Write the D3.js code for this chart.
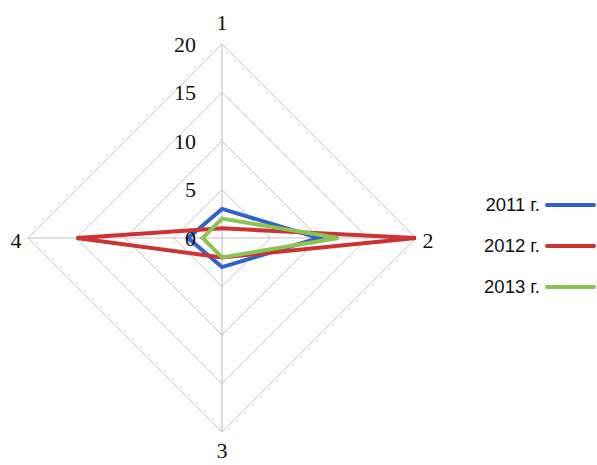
<!DOCTYPE html>
<html>
<head>
<meta charset="utf-8">
<script src="https://cdn.jsdelivr.net/npm/d3@7"></script>
<style>
  html, body { margin: 0; padding: 0; background: #fff; }
  svg { display: block; }
</style>
</head>
<body>
<svg id="chart" width="597" height="465"></svg>
<script>
// Radar chart: four indicators, three years
const axesNames = ["1", "2", "3", "4"];
const ticks = [0, 5, 10, 15, 20];
const seriesNames = ["2011 г.", "2012 г.", "2013 г."];
const values2011 = [3, 10, 3, 3.5];
const values2012 = [1, 20, 2, 15];
const values2013 = [2, 12, 2, 2];
const seriesColors = ["#2f63c8", "#cc3333", "#8dc254"];

const allSeries = [values2011, values2012, values2013];

const svg = d3.select("#chart");
const cx = 222, cy = 238, R = 194;

const r = d3.scaleLinear().domain([0, 20]).range([0, R]);
const ang = i => i * 2 * Math.PI / axesNames.length;
const pt = (i, v) => [cx + r(v) * Math.sin(ang(i)), cy - r(v) * Math.cos(ang(i))];

// grid rings
const ring = d3.line();
svg.append("g").selectAll("path").data(ticks.filter(t => t > 0)).join("path")
  .attr("d", t => ring(axesNames.map((_, i) => pt(i, t))) + "Z")
  .attr("fill", "none").attr("stroke", "#c4c4c4").attr("stroke-width", 1);

// spokes
svg.append("g").selectAll("line").data(axesNames).join("line")
  .attr("x1", cx).attr("y1", cy)
  .attr("x2", (d, i) => pt(i, 20)[0]).attr("y2", (d, i) => pt(i, 20)[1])
  .attr("stroke", "#c4c4c4").attr("stroke-width", 1.2);

// series polygons
const line = d3.line().curve(d3.curveLinearClosed);
svg.append("g").selectAll("path").data(allSeries).join("path")
  .attr("d", s => line(s.map((v, i) => pt(i, v))))
  .attr("fill", "none")
  .attr("stroke", (d, k) => seriesColors[k])
  .attr("stroke-width", 4)
  .attr("stroke-linejoin", "miter");

// tick labels along the first axis
svg.append("g").selectAll("text").data(ticks).join("text")
  .attr("x", cx - 26).attr("y", t => cy - r(t))
  .attr("dy", "0.35em")
  .attr("text-anchor", "end")
  .attr("font-family", "'Liberation Serif', 'Times New Roman', serif")
  .attr("font-size", 22)
  .attr("fill", "#111")
  .text(t => t);

// axis labels
const labelPos = [[cx, 22], [428, cy + 2], [cx, 450], [16, cy + 2]];
svg.append("g").selectAll("text").data(axesNames).join("text")
  .attr("x", (d, i) => labelPos[i][0]).attr("y", (d, i) => labelPos[i][1])
  .attr("dy", "0.35em")
  .attr("text-anchor", "middle")
  .attr("font-family", "'Liberation Serif', 'Times New Roman', serif")
  .attr("font-size", 22)
  .attr("fill", "#111")
  .text(d => d);

// legend
const lg = svg.append("g");
const rows = lg.selectAll("g").data(seriesNames).join("g")
  .attr("transform", (d, k) => `translate(0, ${205 + k * 41})`);
rows.append("text")
  .attr("x", 540).attr("y", 0).attr("dy", "0.35em")
  .attr("text-anchor", "end")
  .attr("font-family", "'Liberation Sans', Arial, sans-serif")
  .attr("font-size", 18.5)
  .attr("fill", "#111")
  .text(d => d);
rows.append("line")
  .attr("x1", 547).attr("x2", 594).attr("y1", 0).attr("y2", 0)
  .attr("stroke", (d, k) => seriesColors[k])
  .attr("stroke-width", 4)
  .attr("stroke-linecap", "round");
</script>
</body>
</html>
